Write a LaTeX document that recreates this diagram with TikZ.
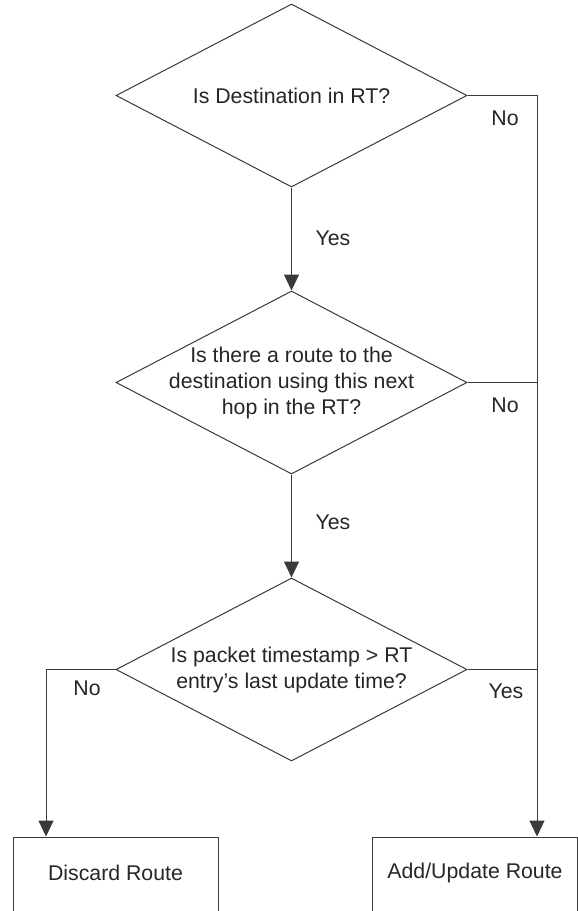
\documentclass[tikz,border=0pt]{standalone}
\usepackage{fontspec}
\setmainfont{Liberation Sans}
\usetikzlibrary{shapes.geometric,arrows.meta}
\definecolor{ink}{HTML}{262626}
\definecolor{wire}{HTML}{3A3A3A}
\tikzset{
  decision/.style={draw=wire, line width=1pt, diamond, inner sep=0pt,
    minimum width=351pt, minimum height=183pt},
  action/.style={draw=wire, line width=1pt, rectangle, inner sep=0pt,
    minimum width=205pt, minimum height=80pt},
  words/.style={text=ink, font=\fontsize{21.3}{26}\selectfont, align=center, inner sep=0pt},
  tag/.style={text=ink, font=\fontsize{21.3}{26}\selectfont, inner sep=0pt},
  flow/.style={draw=wire, line width=1pt},
  arr/.style={flow, -{Triangle[length=16pt,width=15pt]}},
}
\begin{document}
\begin{tikzpicture}[x=1pt,y=-1pt]
\clip (0,0) rectangle (578,911);
\fill[white] (0,0) rectangle (578,911);

% decisions
\node[decision] (d1) at (291.5,95.5) {};
\node[words] (d1t) at (d1) {Is Destination in RT?};
\node[decision] (d2) at (291.5,382.5) {};
\node[words] (d2t) at (d2) {Is there a route to the\\destination using this next\\hop in the RT?};
\node[decision] (d3) at (291.5,669.5) {};
\node[words] (d3t) at (d3) {Is packet timestamp > RT\\entry’s last update time?};

% outcomes
\node[action] (discard) at (115.5,877) {};
\node[words] (discardt) at (115.5,873) {Discard Route};
\node[action] (add) at (475,877) {};
\node[words] (addt) at (475,873) {Add/Update Route};

% vertical rails on the sides
\coordinate (rail) at (537,0);
\coordinate (lrail) at (46,0);

% main column
\draw[arr] (d1.south) -- (d2.north);
\draw[arr] (d2.south) -- (d3.north);

% right-hand rail to Add/Update Route
\draw[arr] (d1.east) -| (rail |- add.north);
\draw[flow] (d2.east) -- (rail |- d2.east);
\draw[flow] (d3.east) -- (rail |- d3.east);

% left-hand branch to Discard Route
\draw[arr] (d3.west) -| (lrail |- discard.north);

% branch labels
\node[tag] (y1) at (333,238) {Yes};
\node[tag] (y2) at (333,522) {Yes};
\node[tag] (n1) at (505,118) {No};
\node[tag] (n2) at (505,405) {No};
\node[tag] (y3) at (506,691) {Yes};
\node[tag] (n3) at (87,688) {No};
\end{tikzpicture}
\end{document}
